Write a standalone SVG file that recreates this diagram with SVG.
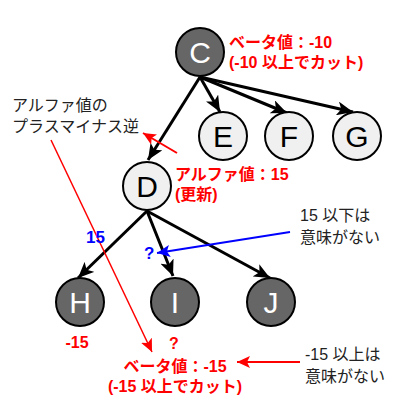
<svg xmlns="http://www.w3.org/2000/svg" width="400" height="400" viewBox="0 0 400 400">
<style>
.node circle{stroke:#000;stroke-width:2}
.dark circle{fill:#666}
.light circle{fill:#f0f0f0}
.node text{font-family:"Liberation Sans","Noto Sans",sans-serif;font-size:30px;text-anchor:middle}
.dark text{fill:#fff}
.light text{fill:#000}
.edge{stroke:#000;stroke-width:3;fill:none;marker-end:url(#ah)}
.note{font-family:"Liberation Sans","Noto Sans CJK JP",sans-serif;font-size:16px;fill:#222}
.red{font-family:"Liberation Sans","Noto Sans CJK JP",sans-serif;font-size:16px;font-weight:bold;fill:#f00}
.blue{font-family:"Liberation Sans","Noto Sans CJK JP",sans-serif;font-size:17px;font-weight:bold;fill:#00f}
</style>
<defs>
<marker id="ah" markerUnits="userSpaceOnUse" markerWidth="18" markerHeight="14" refX="16" refY="7" orient="auto">
<path d="M0,0 L16,7 L0,14 L4,7 z" fill="#000"/>
</marker>
<marker id="ahr" markerUnits="userSpaceOnUse" markerWidth="14" markerHeight="12" refX="13" refY="6" orient="auto">
<path d="M0,0 L13,6 L0,12 L3,6 z" fill="#f00"/>
</marker>
<marker id="ahb" markerUnits="userSpaceOnUse" markerWidth="14" markerHeight="12" refX="13" refY="6" orient="auto">
<path d="M0,0 L13,6 L0,12 L3,6 z" fill="#00f"/>
</marker>
</defs>
<g id="connectors">
<line class="edge" x1="200" y1="77" x2="148" y2="160"/>
<line class="edge" x1="200" y1="77" x2="220" y2="112"/>
<line class="edge" x1="200" y1="77" x2="287" y2="113"/>
<line class="edge" x1="200" y1="77" x2="353" y2="112"/>
<line class="edge" x1="147" y1="211" x2="78" y2="278"/>
<line class="edge" x1="147" y1="211" x2="173" y2="276"/>
<line class="edge" x1="147" y1="211" x2="270" y2="278"/>
<line x1="51" y1="140" x2="152" y2="352" stroke="#f00" stroke-width="1.5" marker-end="url(#ahr)"/>
<line x1="177" y1="153" x2="143" y2="133" stroke="#f00" stroke-width="2" marker-end="url(#ahr)"/>
<line x1="300" y1="362" x2="237" y2="362" stroke="#f00" stroke-width="2" marker-end="url(#ahr)"/>
<line x1="290" y1="232" x2="157" y2="253" stroke="#00f" stroke-width="2" marker-end="url(#ahb)"/>
</g>
<g id="C" class="node dark"><circle cx="200" cy="52" r="24"/><text x="200" y="63">C</text></g>
<g id="E" class="node light"><circle cx="223" cy="136" r="24"/><text x="223" y="147">E</text></g>
<g id="F" class="node light"><circle cx="289" cy="136" r="24"/><text x="289" y="147">F</text></g>
<g id="G" class="node light"><circle cx="357" cy="136" r="24"/><text x="357" y="147">G</text></g>
<g id="D" class="node light"><circle cx="147" cy="186" r="24"/><text x="147" y="197">D</text></g>
<g id="H" class="node dark"><circle cx="80" cy="302" r="24"/><text x="80" y="313">H</text></g>
<g id="I" class="node dark"><circle cx="175" cy="302" r="24"/><text x="175" y="313">I</text></g>
<g id="J" class="node dark"><circle cx="271" cy="302" r="24"/><text x="271" y="313">J</text></g>
<g id="labels">
<text class="red" x="229" y="48">ベータ値：-10</text>
<text class="red" x="229" y="68">(-10 以上でカット)</text>
<text class="note" x="12" y="111">アルファ値の</text>
<text class="note" x="12" y="132">プラスマイナス逆</text>
<text class="red" x="175" y="180">アルファ値：15</text>
<text class="red" x="175" y="200">(更新)</text>
<text class="blue" x="86" y="243">15</text>
<text class="blue" x="144" y="259">?</text>
<text class="note" x="300" y="221">15 以下は</text>
<text class="note" x="300" y="243">意味がない</text>
<text class="red" x="77" y="348" text-anchor="middle">-15</text>
<text class="red" x="174" y="349" text-anchor="middle">?</text>
<text class="red" x="175" y="372" text-anchor="middle">ベータ値：-15</text>
<text class="red" x="175" y="392" text-anchor="middle">(-15 以上でカット)</text>
<text class="note" x="305" y="360">-15 以上は</text>
<text class="note" x="305" y="382">意味がない</text>
</g>
</svg>
